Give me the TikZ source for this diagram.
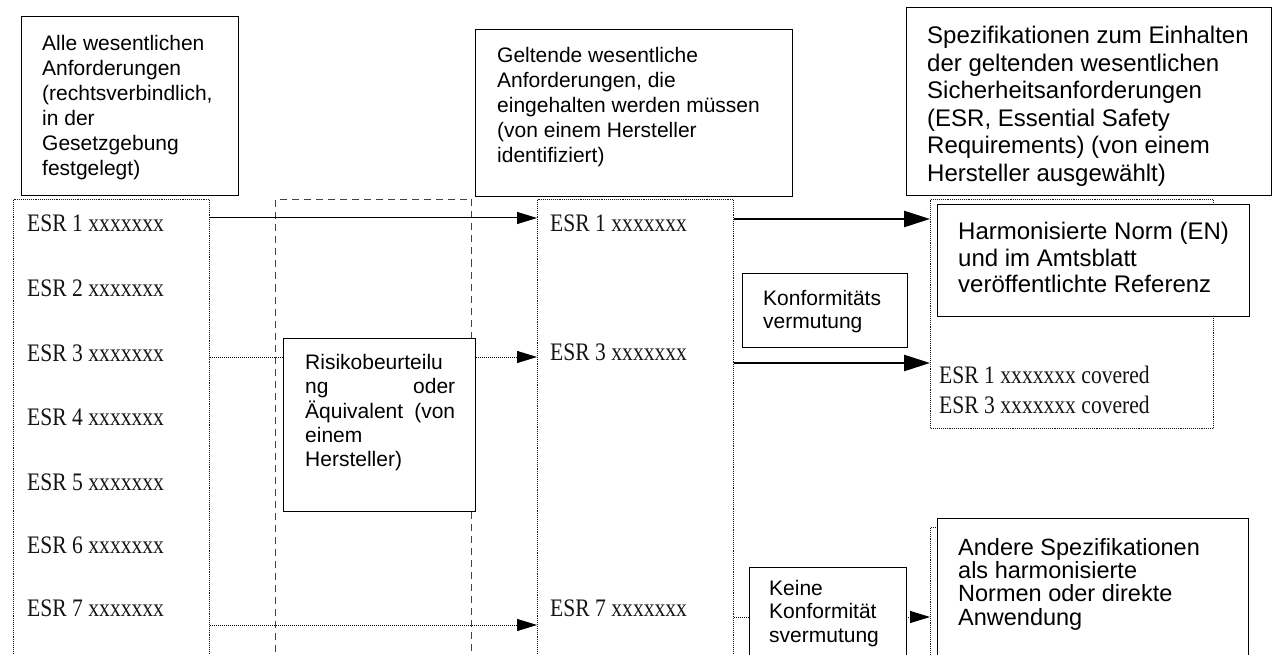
\documentclass[tikz,border=0pt]{standalone}
\usepackage{fontspec}
\setmainfont{Liberation Sans}
\newfontfamily\serifesr{Liberation Serif}
\usetikzlibrary{arrows.meta,calc}
\newcommand{\esrtext}[1]{\scalebox{0.9}[1.05]{#1}}
\tikzset{
  box/.style={draw=black, line width=1.3pt, fill=white, anchor=north west, inner sep=0pt},
  colbox/.style={draw=black!90, densely dotted, line width=1.1pt, anchor=north west, inner sep=0pt},
  dashcol/.style={draw=black!75, dash pattern=on 7pt off 5pt, line width=1pt, anchor=north west, inner sep=0pt},
  txt/.style={anchor=north west, inner sep=0pt, align=left, font=\fontsize{21}{25}\selectfont},
  txtR/.style={anchor=north west, inner sep=0pt, align=left, font=\fontsize{24}{27.6}\selectfont},
  esr/.style={anchor=west, inner sep=0pt, text=black!92, font=\serifesr\fontsize{24}{24}\selectfont},
  thinarr/.style={-{Triangle[length=20pt,width=12pt]}, line width=1pt},
  thickarr/.style={-{Triangle[length=26pt,width=16pt]}, line width=2.6pt},
}
\begin{document}
\begin{tikzpicture}[x=1pt,y=-1pt]
\useasboundingbox (0,0) rectangle (1272,655);
\clip (0,0) rectangle (1272,655);

% columns
\node[colbox, minimum width=196pt, minimum height=471pt] (colL) at (13,199) {};
\node[dashcol, minimum width=196pt, minimum height=471pt] (dcol) at (275,199) {};
\node[colbox, minimum width=196pt, minimum height=471pt] (colM) at (537,199) {};
\node[colbox, minimum width=283pt, minimum height=229pt] (cov) at (930,199) {};
\node[colbox, minimum width=300pt, minimum height=143pt] (andB) at (930,527) {};

% header boxes
\node[box, minimum width=217pt, minimum height=179pt] (alle) at (21,16) {};
\node[txt] (alleT) at ($(alle.north west)+(21,19)$) {Alle wesentlichen\\Anforderungen\\(rechtsverbindlich,\\in der\\Gesetzgebung\\festgelegt)};

\node[box, minimum width=317pt, minimum height=167pt] (gelt) at (475,29) {};
\node[txt] (geltT) at ($(gelt.north west)+(22,18)$) {Geltende wesentliche\\Anforderungen, die\\eingehalten werden müssen\\(von einem Hersteller\\identifiziert)};

\node[box, minimum width=365pt, minimum height=188pt] (spez) at (906,7) {};
\node[txtR] (spezT) at ($(spez.north west)+(21,19)$) {Spezifikationen zum Einhalten\\der geltenden wesentlichen\\Sicherheitsanforderungen\\(ESR, Essential Safety\\Requirements) (von einem\\Hersteller ausgewählt)};

% ESR lists
\node[esr] (l1) at (27,223) {\esrtext{ESR 1 xxxxxxx}};
\node[esr] (l2) at (27,288) {\esrtext{ESR 2 xxxxxxx}};
\node[esr] (l3) at (27,353) {\esrtext{ESR 3 xxxxxxx}};
\node[esr] (l4) at (27,417) {\esrtext{ESR 4 xxxxxxx}};
\node[esr] (l5) at (27,482) {\esrtext{ESR 5 xxxxxxx}};
\node[esr] (l6) at (27,545) {\esrtext{ESR 6 xxxxxxx}};
\node[esr] (l7) at (27,608) {\esrtext{ESR 7 xxxxxxx}};

\node[esr] (m1) at (550,223) {\esrtext{ESR 1 xxxxxxx}};
\node[esr] (m3) at (550,352) {\esrtext{ESR 3 xxxxxxx}};
\node[esr] (m7) at (550,608) {\esrtext{ESR 7 xxxxxxx}};

\node[esr] (c1) at (939,375) {\esrtext{ESR 1 xxxxxxx covered}};
\node[esr] (c3) at (939,405) {\esrtext{ESR 3 xxxxxxx covered}};

% arrows left -> middle
\draw[thinarr] ($(colL.north east)+(0,19)$) -- ($(colM.north west)+(0,19)$);
\draw[thinarr, densely dotted] ($(colL.north east)+(0,158)$) -- ($(colM.north west)+(0,158)$);
\draw[thinarr, densely dotted] ($(colL.north east)+(0,426)$) -- ($(colM.north west)+(0,426)$);

% arrows middle -> right
\draw[thickarr] ($(colM.north east)+(0,20)$) -- ($(cov.north west)+(0,20)$);
\draw[thickarr] ($(colM.north east)+(0,164)$) -- ($(cov.north west)+(0,164)$);
\draw[thinarr, densely dotted] ($(colM.north east)+(0,418)$) -- ($(andB.north west)+(0,90)$);

% boxes over arrows
\node[box, minimum width=192pt, minimum height=173pt] (risk) at (283,338) {};
\node[txt, font=\fontsize{21}{24.3}\selectfont] (riskT) at ($(risk.north west)+(22,16)$) {Risikobeurteilu\\\hbox to 150pt{ng\hfill oder}\\\hbox to 150pt{Äquivalent\hfill (von}\\einem\\Hersteller)};

\node[box, minimum width=312pt, minimum height=112pt] (harm) at (937,204) {};
\node[txtR, font=\fontsize{24}{26.7}\selectfont] (harmT) at ($(harm.north west)+(21,18)$) {Harmonisierte Norm (EN)\\und im Amtsblatt\\veröffentlichte Referenz};

\node[box, minimum width=165pt, minimum height=74pt] (konf) at (742,273) {};
\node[txt, font=\fontsize{21}{23.5}\selectfont] (konfT) at ($(konf.north west)+(21,17)$) {Konformitäts\\vermutung};

\node[box, minimum width=157pt, minimum height=100pt] (keine) at (749,567) {};
\node[txt, font=\fontsize{21}{23.5}\selectfont] (keineT) at ($(keine.north west)+(20,13)$) {Keine\\Konformität\\svermutung};

\node[box, minimum width=311pt, minimum height=152pt] (andere) at (937,518) {};
\node[txtR, font=\fontsize{23.5}{23.3}\selectfont] (andereT) at ($(andere.north west)+(21,20)$) {Andere Spezifikationen\\als harmonisierte\\Normen oder direkte\\Anwendung};
\end{tikzpicture}
\end{document}
